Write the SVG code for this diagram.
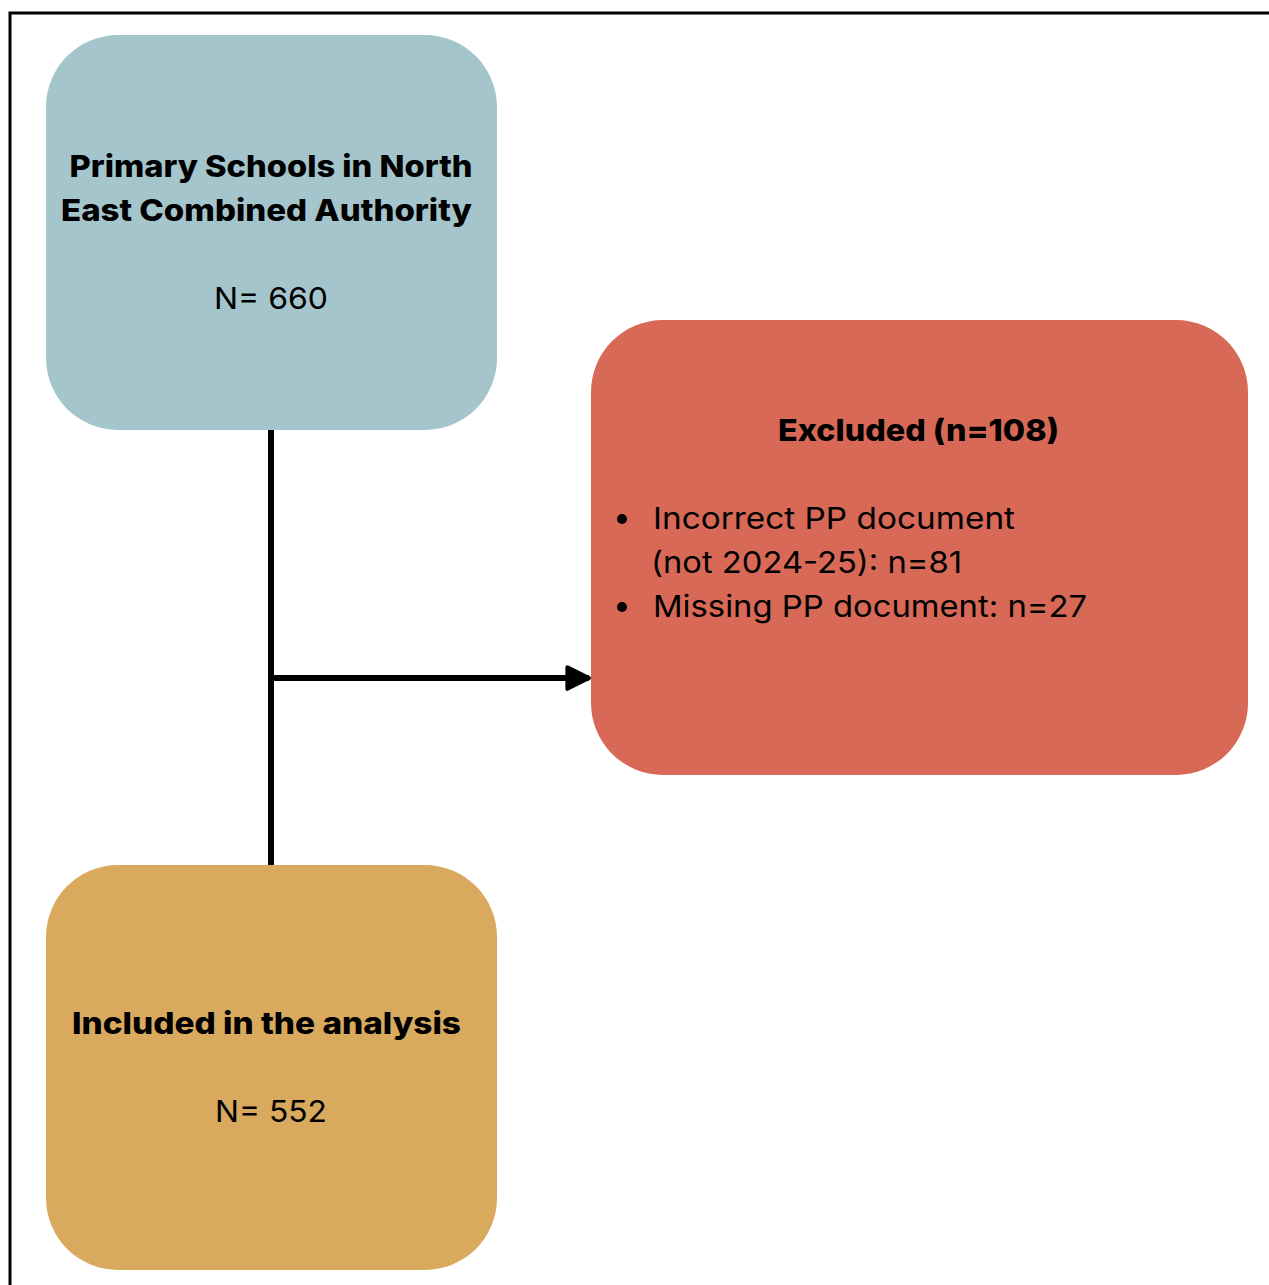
<svg xmlns="http://www.w3.org/2000/svg" width="1269" height="1285" viewBox="0 0 1269 1285">
<style>
.t{font-family:Inter,"Liberation Sans",sans-serif;font-size:30px;fill:#000}
.b{font-weight:800}
.c{text-anchor:middle}
</style>
<defs>
<marker id="ah" viewBox="0 0 10 10" refX="9" refY="5" markerWidth="4.5" markerHeight="5.5" markerUnits="strokeWidth" orient="auto">
<path d="M1,1 L9,5 L1,9 Z" fill="#000" stroke="#000" stroke-width="1.5" stroke-linejoin="round"/>
</marker>
</defs>
<rect width="1269" height="1285" fill="#fff"/>
<path d="M10,1290 V13 H1275" fill="none" stroke="#000" stroke-width="3"/>
<g id="connectors" stroke="#000" stroke-width="6" fill="none">
<line x1="271" y1="428" x2="271" y2="867"/>
<line x1="271" y1="678" x2="589" y2="678" marker-end="url(#ah)"/>
</g>
<g id="node-primary">
<rect x="46" y="35" width="451" height="395" rx="72" fill="#A4C5CB"/>
<text class="t b c" x="271" y="177" textLength="403" lengthAdjust="spacingAndGlyphs">Primary Schools in North</text>
<text class="t b c" x="266.5" y="221" textLength="411" lengthAdjust="spacingAndGlyphs">East Combined Authority</text>
<text class="t c" x="271" y="309" textLength="114" lengthAdjust="spacingAndGlyphs">N= 660</text>
</g>
<g id="node-excluded">
<rect x="591" y="320" width="657" height="455" rx="72" fill="#D76956"/>
<text class="t b c" x="918.5" y="441" textLength="281" lengthAdjust="spacingAndGlyphs">Excluded (n=108)</text>
<circle cx="622" cy="519" r="5" fill="#000"/>
<text class="t" x="653" y="529" textLength="362" lengthAdjust="spacingAndGlyphs">Incorrect PP document</text>
<text class="t" x="651" y="573" textLength="311" lengthAdjust="spacingAndGlyphs">(not 2024-25): n=81</text>
<circle cx="622" cy="607" r="5" fill="#000"/>
<text class="t" x="653" y="617" textLength="434" lengthAdjust="spacingAndGlyphs">Missing PP document: n=27</text>
</g>
<g id="node-included">
<rect x="46" y="865" width="451" height="405" rx="72" fill="#D9AA5E"/>
<text class="t b c" x="266.5" y="1034" textLength="389" lengthAdjust="spacingAndGlyphs">Included in the analysis</text>
<text class="t c" x="271" y="1122" textLength="112" lengthAdjust="spacingAndGlyphs">N= 552</text>
</g>
</svg>
